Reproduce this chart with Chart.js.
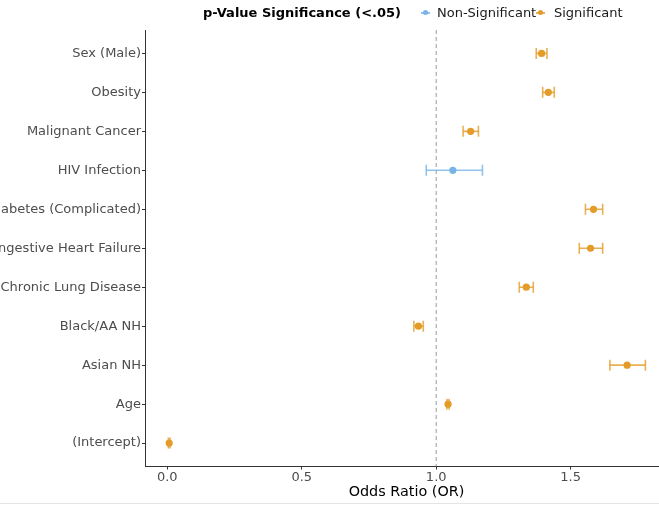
<!DOCTYPE html>
<html>
<head>
<meta charset="utf-8">
<script src="https://cdn.jsdelivr.net/npm/chart.js@4"></script>
<style>
  html, body { margin: 0; padding: 0; background: #ffffff; }
  #wrap { position: relative; width: 659px; height: 510px; overflow: hidden; font-family: "DejaVu Sans", sans-serif; }
  #c { position: absolute; left: 0; top: 0; }
  .lg { position: absolute; font-size: 13px; line-height: 15px; color: #1a1a1a; white-space: nowrap; }
  .lg-title { font-weight: bold; color: #000; }
  .mk { position: absolute; width: 9px; height: 15px; }
  .mk .ln { position: absolute; left: 0; right: 0; top: 7px; height: 1.5px; }
  .mk .dt { position: absolute; left: 2px; top: 5px; width: 5px; height: 5px; border-radius: 50%; }
  #footline { position: absolute; left: 0; top: 503px; width: 659px; height: 1px; background: #e4e4e4; }
</style>
</head>
<body>
<div id="wrap">
  <canvas id="c" width="668" height="510"></canvas>
  <div id="legend"></div>
  <div id="footline"></div>
</div>
<script>
// ---- data ----
const categories = ['Sex (Male)', 'Obesity', 'Malignant Cancer', 'HIV Infection', 'Diabetes (Complicated)',
  'Congestive Heart Failure', 'Chronic Lung Disease', 'Black/AA NH', 'Asian NH', 'Age', '(Intercept)'];
const oddsRatio = [1.392, 1.417, 1.128, 1.062, 1.585, 1.574, 1.335, 0.934, 1.710, 1.044, 0.007];
const ciLower   = [1.372, 1.396, 1.100, 0.963, 1.555, 1.532, 1.309, 0.917, 1.646, 1.040, 0.004];
const ciUpper   = [1.412, 1.439, 1.157, 1.172, 1.619, 1.619, 1.361, 0.952, 1.778, 1.048, 0.010];
const significance = ['Significant', 'Significant', 'Significant', 'Non-Significant', 'Significant',
  'Significant', 'Significant', 'Significant', 'Significant', 'Significant', 'Significant'];
const groups = ['Non-Significant', 'Significant'];
const xTicks = [0, 0.5, 1.0, 1.5];
const referenceOR = 1;
const legendTitle = 'p-Value Significance (<.05)';
const xTitle = 'Odds Ratio (OR)';

// ---- styles ----
const pointColors = { 'Non-Significant': 'rgba(120,180,232,1)', 'Significant': 'rgba(228,156,40,1)' };
const barColors = { 'Non-Significant': 'rgba(120,180,232,0.8)', 'Significant': 'rgba(228,156,40,0.8)' };

function whiskerData(g) {
  const out = [];
  categories.forEach((c, i) => {
    if (significance[i] !== g) return;
    out.push({ x: ciLower[i], y: i }, { x: ciUpper[i], y: i }, { x: null, y: null });
  });
  return out;
}
function pointData(g) {
  const out = [];
  categories.forEach((c, i) => { if (significance[i] === g) out.push({ x: oddsRatio[i], y: i }); });
  return out;
}

const datasets = [{
  data: [{ x: referenceOR, y: -0.6 }, { x: referenceOR, y: categories.length - 0.4 }],
  showLine: true, borderColor: '#9a9a9a', borderWidth: 1, borderDash: [4, 3], pointRadius: 0
}];
groups.forEach(g => {
  datasets.push({
    data: whiskerData(g), showLine: true, spanGaps: false,
    borderColor: barColors[g], borderWidth: 1.6,
    pointStyle: 'line', rotation: 90, pointRadius: 5.5,
    pointBorderColor: barColors[g], pointBorderWidth: 1.6, pointBackgroundColor: barColors[g]
  });
});
groups.forEach(g => {
  datasets.push({
    data: pointData(g), showLine: false,
    pointStyle: 'circle', pointRadius: 3.6, pointBorderWidth: 0,
    pointBackgroundColor: pointColors[g], pointBorderColor: pointColors[g]
  });
});

new Chart(document.getElementById('c'), {
  type: 'scatter',
  data: { datasets },
  options: {
    responsive: false, animation: false, devicePixelRatio: 1,
    layout: { autoPadding: false, padding: { top: 30, right: 0, left: 0, bottom: 0 } },
    plugins: { legend: { display: false }, tooltip: { enabled: false } },
    scales: {
      x: {
        type: 'linear', min: -0.0829, max: 1.862,
        afterBuildTicks: s => { s.ticks = xTicks.map(v => ({ value: v })); },
        afterFit: s => { s.height = 43.5; s.paddingLeft = 0; s.paddingRight = 0; },
        grid: { drawOnChartArea: false, drawTicks: true, tickLength: 3, color: '#333333', tickWidth: 1 },
        border: { display: true, color: '#333333', width: 1 },
        ticks: { padding: 0, color: '#4d4d4d', font: { family: 'DejaVu Sans', size: 13 },
          callback: v => Number(v).toFixed(1), maxRotation: 0 },
        title: { display: true, text: xTitle, color: '#000000',
          font: { family: 'DejaVu Sans', size: 14.4 }, padding: { top: 0, bottom: 9 } }
      },
      y: {
        type: 'linear', reverse: true, min: -0.6, max: categories.length - 0.4,
        afterBuildTicks: s => { s.ticks = categories.map((c, i) => ({ value: i })); },
        afterFit: s => { s.width = 145; s.paddingTop = 0; s.paddingBottom = 0; },
        grid: { drawOnChartArea: false, drawTicks: true, tickLength: 3, color: '#333333', tickWidth: 1 },
        border: { display: true, color: '#333333', width: 1 },
        ticks: { padding: 1, color: '#4d4d4d', font: { family: 'DejaVu Sans', size: 13 },
          callback: (v) => categories[v] }
      }
    }
  }
});

// ---- HTML legend ----
const lg = document.getElementById('legend');
function addText(txt, left, cls) {
  const d = document.createElement('div');
  d.className = 'lg ' + (cls || '');
  d.style.left = left + 'px'; d.style.top = '5px';
  d.textContent = txt; lg.appendChild(d);
}
function addMarker(g, left) {
  const m = document.createElement('div');
  m.className = 'mk'; m.style.left = left + 'px'; m.style.top = '5px';
  m.innerHTML = '<div class="ln" style="background:' + barColors[g] + '"></div><div class="dt" style="background:' + pointColors[g] + '"></div>';
  lg.appendChild(m);
}
addText(legendTitle, 203, 'lg-title');
addMarker(groups[0], 421);
addText(groups[0], 437);
addMarker(groups[1], 536);
addText(groups[1], 554);
</script>
</body>
</html>
